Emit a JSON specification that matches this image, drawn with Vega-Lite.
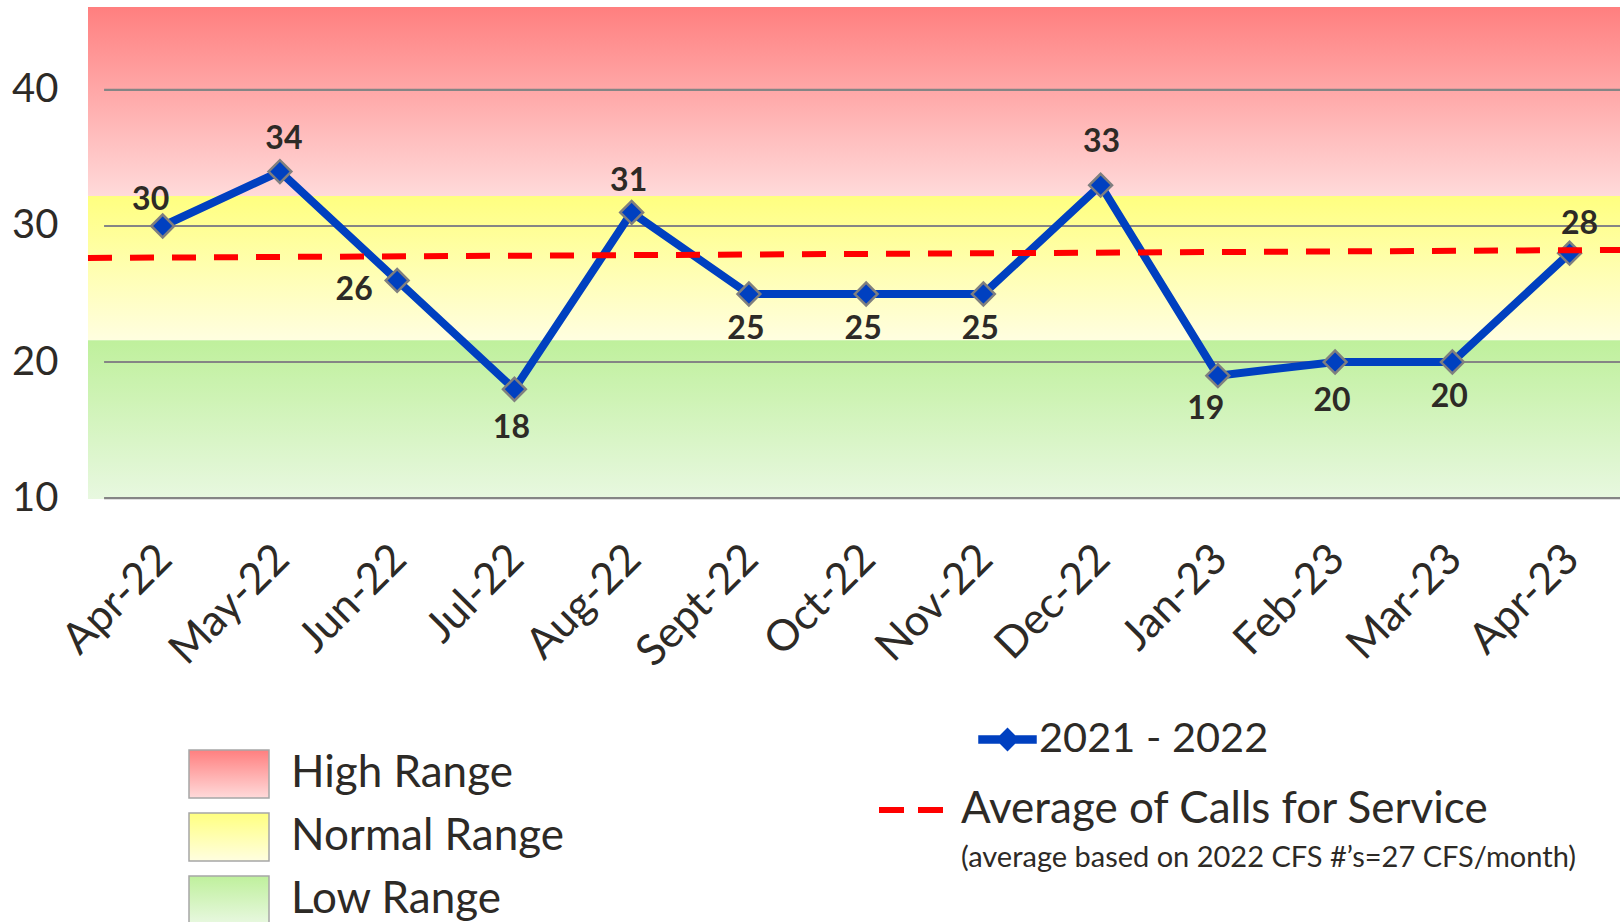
{
  "$schema": "https://vega.github.io/schema/vega-lite/v6.json",
  "width": 1532,
  "height": 492,
  "autosize": {"type": "none"},
  "padding": {"left": 88, "top": 7, "right": 0, "bottom": 423},
  "background": "white",
  "config": {
    "view": {"stroke": null},
    "font": "Lato",
    "axis": {"grid": false, "domain": false, "ticks": false, "tickSize": 0, "labelColor": "#2d2a26", "labelFont": "Lato"}
  },
  "datasets": {
    "calls": [
      {"idx": 0, "month": "Apr-22", "calls": 30, "series": "2021 - 2022"},
      {"idx": 1, "month": "May-22", "calls": 34, "series": "2021 - 2022"},
      {"idx": 2, "month": "Jun-22", "calls": 26, "series": "2021 - 2022"},
      {"idx": 3, "month": "Jul-22", "calls": 18, "series": "2021 - 2022"},
      {"idx": 4, "month": "Aug-22", "calls": 31, "series": "2021 - 2022"},
      {"idx": 5, "month": "Sept-22", "calls": 25, "series": "2021 - 2022"},
      {"idx": 6, "month": "Oct-22", "calls": 25, "series": "2021 - 2022"},
      {"idx": 7, "month": "Nov-22", "calls": 25, "series": "2021 - 2022"},
      {"idx": 8, "month": "Dec-22", "calls": 33, "series": "2021 - 2022"},
      {"idx": 9, "month": "Jan-23", "calls": 19, "series": "2021 - 2022"},
      {"idx": 10, "month": "Feb-23", "calls": 20, "series": "2021 - 2022"},
      {"idx": 11, "month": "Mar-23", "calls": 20, "series": "2021 - 2022"},
      {"idx": 12, "month": "Apr-23", "calls": 28, "series": "2021 - 2022"}
    ],
    "bands": [
      {"range": "High Range", "lo": 32.2, "hi": 46.1},
      {"range": "Normal Range", "lo": 21.6, "hi": 32.2},
      {"range": "Low Range", "lo": 9.93, "hi": 21.6}
    ],
    "avg": [
      {"idx": -0.637, "avg": 27.65, "series": "Average of Calls for Service"},
      {"idx": 12.43, "avg": 28.24, "series": "Average of Calls for Service"}
    ],
    "grid": [{"v": 10}, {"v": 20}, {"v": 30}, {"v": 40}]
  },
  "layer": [
    {
      "data": {"name": "bands"},
      "mark": {"type": "rect"},
      "encoding": {
        "y": {"field": "lo", "type": "quantitative", "title": null, "scale": {"domain": [9.93, 46.1], "nice": false, "zero": false},
              "axis": {"values": [10, 20, 30, 40], "labelFontSize": 40, "labelPadding": 30, "labelBaseline": "middle", "title": null}},
        "y2": {"field": "hi"},
        "fill": {
          "field": "range", "type": "nominal",
          "scale": {
            "domain": ["High Range", "Normal Range", "Low Range"],
            "range": [
              {"expr": "{gradient: 'linear', x1: 0, y1: 0, x2: 0, y2: 1, stops: [{offset: 0, color: '#FF7F7F'}, {offset: 1, color: '#FFDADA'}]}"},
              {"expr": "{gradient: 'linear', x1: 0, y1: 0, x2: 0, y2: 1, stops: [{offset: 0, color: '#FFFF80'}, {offset: 1, color: '#FFFEE0'}]}"},
              {"expr": "{gradient: 'linear', x1: 0, y1: 0, x2: 0, y2: 1, stops: [{offset: 0, color: '#BFF09C'}, {offset: 1, color: '#E8F8E0'}]}"}
            ]
          },
          "legend": {
            "title": null, "orient": "none", "legendX": 115, "legendY": 741, "padding": 0,
            "symbolType": "M-1.6,-0.96H1.6V0.96H-1.6Z", "symbolSize": 2500,
            "symbolStrokeColor": "#a6a6a6", "symbolStrokeWidth": 1.5, "symbolOpacity": 1,
            "labelFont": "Lato", "labelFontSize": 44, "labelColor": "#2d2a26", "labelOffset": 36,
            "rowPadding": 9, "labelLimit": 0,
            "encode": {"symbols": {"update": {"stroke": {"value": "#a6a6a6"}, "strokeWidth": {"value": 1.5}, "opacity": {"value": 1}}}}
          }
        }
      }
    },
    {
      "data": {"name": "grid"},
      "mark": {"type": "rule", "stroke": "#858585", "strokeWidth": 2.2},
      "encoding": {
        "x": {"datum": -0.5, "type": "quantitative"},
        "x2": {"datum": 12.43},
        "y": {"field": "v", "type": "quantitative"}
      }
    },
    {
      "data": {"name": "calls"},
      "mark": {"type": "line", "strokeWidth": 8},
      "encoding": {
        "x": {
          "field": "idx", "type": "quantitative", "title": null,
          "scale": {"domain": [-0.637, 12.43], "nice": false, "zero": false},
          "axis": {
            "values": [0, 1, 2, 3, 4, 5, 6, 7, 8, 9, 10, 11, 12],
            "labelExpr": "['Apr-22','May-22','Jun-22','Jul-22','Aug-22','Sept-22','Oct-22','Nov-22','Dec-22','Jan-23','Feb-23','Mar-23','Apr-23'][datum.value]",
            "labelAngle": -45, "labelAlign": "right", "labelBaseline": "middle",
            "labelFontSize": 43, "labelPadding": 53, "labelOffset": 2, "labelOverlap": false, "labelBound": false, "labelFlush": false, "title": null
          }
        },
        "y": {"field": "calls", "type": "quantitative"},
        "stroke": {
          "field": "series", "type": "nominal",
          "scale": {"range": ["#0040C0"]},
          "legend": {
            "title": null, "orient": "none", "legendX": 890, "legendY": 703, "padding": 0,
            "symbolType": "M-1,-0.12H-0.26L0,-0.38L0.26,-0.12H1V0.12H0.26L0,0.38L-0.26,0.12H-1Z",
            "symbolSize": 3249,
            "labelFont": "Lato", "labelFontSize": 41.5, "labelColor": "#2d2a26", "labelOffset": 2, "labelLimit": 0,
            "encode": {"symbols": {"update": {"fill": {"value": "#0040C0"}, "stroke": {"value": "#7f7f7f"}, "strokeWidth": {"value": 1.5}, "opacity": {"value": 1}}}}
          }
        }
      }
    },
    {
      "data": {"name": "calls"},
      "mark": {"type": "point", "shape": "diamond", "size": 520, "filled": true, "fill": "#0040C0", "stroke": "#7f7f7f", "strokeWidth": 2.5, "opacity": 1},
      "encoding": {
        "x": {"field": "idx", "type": "quantitative"},
        "y": {"field": "calls", "type": "quantitative"}
      }
    },
    {
      "data": {"name": "avg"},
      "mark": {"type": "line", "strokeWidth": 6, "strokeDash": [24, 18]},
      "encoding": {
        "x": {"field": "idx", "type": "quantitative"},
        "y": {"field": "avg", "type": "quantitative"},
        "stroke": {
          "field": "series", "type": "nominal",
          "scale": {"range": ["#FF0000"]},
          "legend": {
            "title": "(average based on 2022 CFS #’s=27 CFS/month)",
            "titleOrient": "bottom", "titleFont": "Lato", "titleFontSize": 29, "titleFontWeight": "normal", "titleColor": "#2d2a26", "titlePadding": 12, "titleLimit": 0,
            "orient": "none", "legendX": 788, "legendY": 768, "padding": 0,
            "symbolType": "stroke", "symbolSize": 4096, "symbolDash": [25, 14], "symbolStrokeWidth": 6,
            "labelFont": "Lato", "labelFontSize": 44, "labelColor": "#2d2a26", "labelOffset": 15, "labelLimit": 0,
            "encode": {"title": {"update": {"dx": {"value": 85}}}}
          }
        }
      }
    },
    {
      "data": {"name": "calls"},
      "transform": [{"filter": {"field": "month", "oneOf": ["May-22"]}}],
      "mark": {"type": "text", "font": "Lato", "fontWeight": "bold", "fontSize": 32, "color": "#2d2a26", "dx": 4, "dy": -33, "baseline": "middle"},
      "encoding": {"x": {"field": "idx", "type": "quantitative"}, "y": {"field": "calls", "type": "quantitative"}, "text": {"field": "calls"}}
    },
    {
      "data": {"name": "calls"},
      "transform": [{"filter": {"field": "month", "oneOf": ["Aug-22"]}}],
      "mark": {"type": "text", "font": "Lato", "fontWeight": "bold", "fontSize": 32, "color": "#2d2a26", "dx": -3, "dy": -31, "baseline": "middle"},
      "encoding": {"x": {"field": "idx", "type": "quantitative"}, "y": {"field": "calls", "type": "quantitative"}, "text": {"field": "calls"}}
    },
    {
      "data": {"name": "calls"},
      "transform": [{"filter": {"field": "month", "oneOf": ["Apr-23"]}}],
      "mark": {"type": "text", "font": "Lato", "fontWeight": "bold", "fontSize": 32, "color": "#2d2a26", "dx": 10, "dy": -29, "baseline": "middle"},
      "encoding": {"x": {"field": "idx", "type": "quantitative"}, "y": {"field": "calls", "type": "quantitative"}, "text": {"field": "calls"}}
    },
    {
      "data": {"name": "calls"},
      "transform": [{"filter": {"field": "month", "oneOf": ["Apr-22"]}}],
      "mark": {"type": "text", "font": "Lato", "fontWeight": "bold", "fontSize": 32, "color": "#2d2a26", "dx": -12, "dy": -26, "baseline": "middle"},
      "encoding": {"x": {"field": "idx", "type": "quantitative"}, "y": {"field": "calls", "type": "quantitative"}, "text": {"field": "calls"}}
    },
    {
      "data": {"name": "calls"},
      "transform": [{"filter": {"field": "month", "oneOf": ["Dec-22"]}}],
      "mark": {"type": "text", "font": "Lato", "fontWeight": "bold", "fontSize": 32, "color": "#2d2a26", "dx": 1, "dy": -43, "baseline": "middle"},
      "encoding": {"x": {"field": "idx", "type": "quantitative"}, "y": {"field": "calls", "type": "quantitative"}, "text": {"field": "calls"}}
    },
    {
      "data": {"name": "calls"},
      "transform": [{"filter": {"field": "month", "oneOf": ["Jun-22"]}}],
      "mark": {"type": "text", "font": "Lato", "fontWeight": "bold", "fontSize": 32, "color": "#2d2a26", "dx": -43, "dy": 10, "baseline": "middle"},
      "encoding": {"x": {"field": "idx", "type": "quantitative"}, "y": {"field": "calls", "type": "quantitative"}, "text": {"field": "calls"}}
    },
    {
      "data": {"name": "calls"},
      "transform": [{"filter": {"field": "month", "oneOf": ["Sept-22", "Oct-22", "Nov-22", "Mar-23"]}}],
      "mark": {"type": "text", "font": "Lato", "fontWeight": "bold", "fontSize": 32, "color": "#2d2a26", "dx": -3, "dy": 35, "baseline": "middle"},
      "encoding": {"x": {"field": "idx", "type": "quantitative"}, "y": {"field": "calls", "type": "quantitative"}, "text": {"field": "calls"}}
    },
    {
      "data": {"name": "calls"},
      "transform": [{"filter": {"field": "month", "oneOf": ["Jul-22", "Feb-23"]}}],
      "mark": {"type": "text", "font": "Lato", "fontWeight": "bold", "fontSize": 32, "color": "#2d2a26", "dx": -3, "dy": 39, "baseline": "middle"},
      "encoding": {"x": {"field": "idx", "type": "quantitative"}, "y": {"field": "calls", "type": "quantitative"}, "text": {"field": "calls"}}
    },
    {
      "data": {"name": "calls"},
      "transform": [{"filter": {"field": "month", "oneOf": ["Jan-23"]}}],
      "mark": {"type": "text", "font": "Lato", "fontWeight": "bold", "fontSize": 32, "color": "#2d2a26", "dx": -12, "dy": 33, "baseline": "middle"},
      "encoding": {"x": {"field": "idx", "type": "quantitative"}, "y": {"field": "calls", "type": "quantitative"}, "text": {"field": "calls"}}
    }
  ],
  "resolve": {"scale": {"stroke": "independent"}, "legend": {"stroke": "independent"}}
}
